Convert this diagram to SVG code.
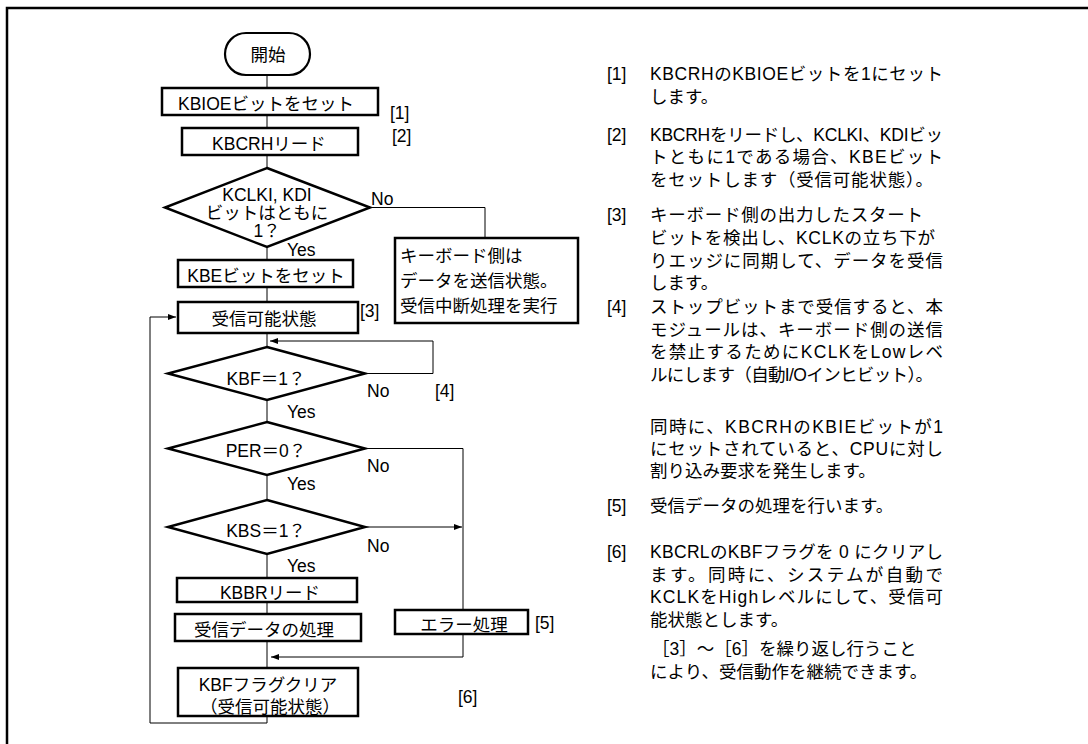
<svg xmlns="http://www.w3.org/2000/svg" width="1088" height="744" viewBox="0 0 1088 744">
<style>
.box{fill:#fff;stroke:#000;stroke-width:2.5}
.ln{fill:none;stroke:#000;stroke-width:1}
.t{font-family:"Liberation Sans","Noto Sans CJK JP",sans-serif;font-size:17.5px;fill:#000}
.c{text-anchor:middle}
</style>
<defs>
<marker id="ar" markerUnits="userSpaceOnUse" markerWidth="9" markerHeight="7" refX="8" refY="3" orient="auto">
<path d="M0,0 L8,3 L0,6 z" fill="#000"/>
</marker>
</defs>
<rect width="1088" height="744" fill="#fff"/>
<path d="M7,744 V8 H1088" fill="none" stroke="#000" stroke-width="2.5"/>

<g id="connectors">
<path class="ln" d="M267,75 V88 M267,115 V128 M267,155 V168 M267,247 V260 M267,287 V302 M267,333 V347 M267,400 V422 M267,475 V500 M267,554 V578 M267,602 V614 M267,641 V668"/>
<path class="ln" d="M370,207.5 H485 V238"/>
<path class="ln" d="M365,373.5 H433 V341 H270" marker-end="url(#ar)"/>
<path class="ln" d="M365,448.5 H463 V610"/>
<path class="ln" d="M365,527 H462" marker-end="url(#ar)"/>
<path class="ln" d="M463,634 V657 H271" marker-end="url(#ar)"/>
<path class="ln" d="M267,716 V723 H150 V317 H176" marker-end="url(#ar)"/>
</g>

<g id="start">
<rect x="225" y="33" width="85" height="42" rx="21" fill="#fff" stroke="#000" stroke-width="2.2"/>
<text class="t c" x="268" y="61" font-size="18">開始</text>
</g>
<g id="n1">
<rect class="box" x="162" y="88" width="216" height="27"/>
<text class="t c" x="266" y="110">KBIOEビットをセット</text>
<text class="t" x="390" y="119">[1]</text>
</g>
<g id="n2">
<rect class="box" x="182" y="128" width="176" height="27"/>
<text class="t c" x="269" y="150">KBCRHリード</text>
<text class="t" x="392" y="142">[2]</text>
</g>
<g id="d1">
<polygon class="box" points="267,168 370,207.5 267,247 165,207.5"/>
<text class="t c" x="267" y="201">KCLKI, KDI</text>
<text class="t c" x="267" y="219">ビットはともに</text>
<text class="t c" x="267" y="237">1？</text>
<text class="t" x="371" y="205">No</text>
<text class="t" x="287" y="256">Yes</text>
</g>
<g id="nabort">
<rect class="box" x="395" y="238" width="183" height="85"/>
<text class="t" x="400" y="262">キーボード側は</text>
<text class="t" x="400" y="287">データを送信状態。</text>
<text class="t" x="400" y="312">受信中断処理を実行</text>
</g>
<g id="n3">
<rect class="box" x="178" y="260" width="175" height="27"/>
<text class="t c" x="266" y="282">KBEビットをセット</text>
</g>
<g id="n4">
<rect class="box" x="178" y="302" width="180" height="31"/>
<text class="t c" x="264" y="325">受信可能状態</text>
<text class="t" x="360" y="317">[3]</text>
</g>
<g id="d2">
<polygon class="box" points="267,347 365,373.5 267,400 168,373.5"/>
<text class="t c" x="266" y="385">KBF＝1？</text>
<text class="t" x="367" y="397">No</text>
<text class="t" x="287" y="418">Yes</text>
<text class="t" x="435" y="397">[4]</text>
</g>
<g id="d3">
<polygon class="box" points="267,422 365,448.5 267,475 168,448.5"/>
<text class="t c" x="266" y="457">PER＝0？</text>
<text class="t" x="367" y="472">No</text>
<text class="t" x="287" y="490">Yes</text>
</g>
<g id="d4">
<polygon class="box" points="267,500 365,527 267,554 168,527"/>
<text class="t c" x="266" y="537">KBS＝1？</text>
<text class="t" x="367" y="552">No</text>
<text class="t" x="287" y="572">Yes</text>
</g>
<g id="n5">
<rect class="box" x="177" y="578" width="180" height="24"/>
<text class="t c" x="270" y="599">KBBRリード</text>
</g>
<g id="n6">
<rect class="box" x="175" y="614" width="186" height="27"/>
<text class="t c" x="264" y="636">受信データの処理</text>
</g>
<g id="nerr">
<rect class="box" x="395" y="610" width="133" height="24"/>
<text class="t c" x="464" y="631">エラー処理</text>
<text class="t" x="535" y="629">[5]</text>
</g>
<g id="n7">
<rect class="box" x="178" y="668" width="180" height="48"/>
<text class="t c" x="268" y="691">KBFフラグクリア</text>
<text class="t c" x="270" y="713">（受信可能状態）</text>
<text class="t" x="458" y="703">[6]</text>
</g>

<g id="notes">
<text class="t" x="607" y="80">[1]</text>
<text class="t" x="650" y="80" textLength="293" lengthAdjust="spacing">KBCRHのKBIOEビットを1にセット</text>
<text class="t" x="650" y="103">します。</text>
<text class="t" x="607" y="141">[2]</text>
<text class="t" x="650" y="141" textLength="293" lengthAdjust="spacing">KBCRHをリードし、KCLKI、KDIビッ</text>
<text class="t" x="650" y="163" textLength="293" lengthAdjust="spacing">トともに1である場合、KBEビット</text>
<text class="t" x="650" y="186" textLength="283" lengthAdjust="spacing">をセットします（受信可能状態）。</text>
<text class="t" x="607" y="221">[3]</text>
<text class="t" x="650" y="221" textLength="273" lengthAdjust="spacing">キーボード側の出力したスタート</text>
<text class="t" x="650" y="244" textLength="285" lengthAdjust="spacing">ビットを検出し、KCLKの立ち下が</text>
<text class="t" x="650" y="267" textLength="293" lengthAdjust="spacing">りエッジに同期して、データを受信</text>
<text class="t" x="650" y="289">します。</text>
<text class="t" x="607" y="313">[4]</text>
<text class="t" x="650" y="313" textLength="293" lengthAdjust="spacing">ストップビットまで受信すると、本</text>
<text class="t" x="650" y="336" textLength="293" lengthAdjust="spacing">モジュールは、キーボード側の送信</text>
<text class="t" x="650" y="358" textLength="293" lengthAdjust="spacing">を禁止するためにKCLKをLowレベ</text>
<text class="t" x="650" y="381" textLength="283" lengthAdjust="spacing">ルにします（自動I/Oインヒビット）。</text>
<text class="t" x="650" y="433" textLength="293" lengthAdjust="spacing">同時に、KBCRHのKBIEビットが1</text>
<text class="t" x="650" y="455" textLength="293" lengthAdjust="spacing">にセットされていると、CPUに対し</text>
<text class="t" x="650" y="477">割り込み要求を発生します。</text>
<text class="t" x="607" y="512">[5]</text>
<text class="t" x="650" y="512">受信データの処理を行います。</text>
<text class="t" x="607" y="558">[6]</text>
<text class="t" x="650" y="558" textLength="293" lengthAdjust="spacing">KBCRLのKBFフラグを 0 にクリアし</text>
<text class="t" x="650" y="581" textLength="293" lengthAdjust="spacing">ます。同時に、システムが自動で</text>
<text class="t" x="650" y="603" textLength="293" lengthAdjust="spacing">KCLKをHighレベルにして、受信可</text>
<text class="t" x="650" y="626">能状態とします。</text>
<text class="t" x="652" y="655">［3］～［6］を繰り返し行うこと</text>
<text class="t" x="650" y="678">により、受信動作を継続できます。</text>
</g>
</svg>
